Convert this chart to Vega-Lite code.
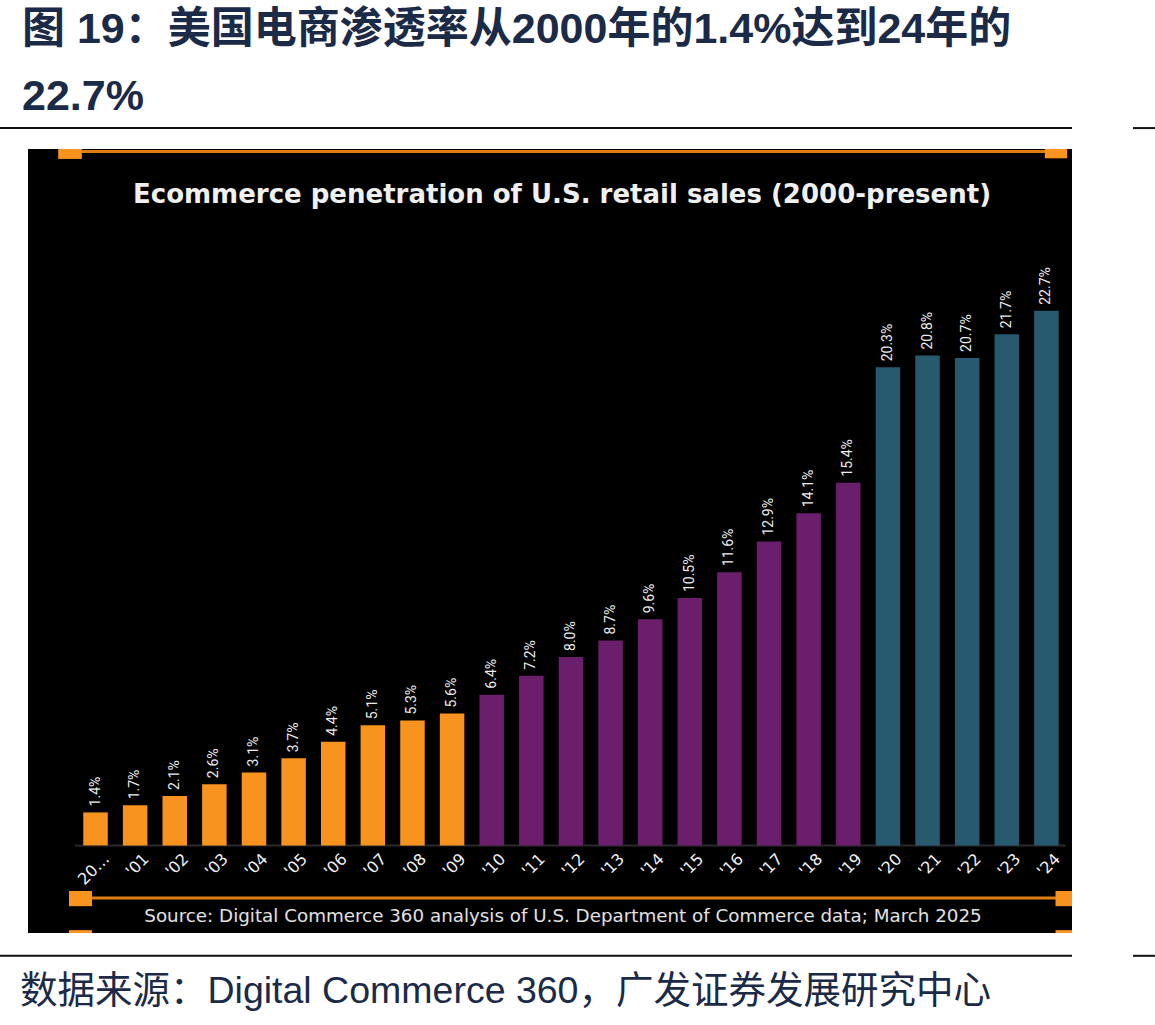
{
  "$schema": "https://vega.github.io/schema/vega-lite/v6.json",
  "width": 1044,
  "height": 784,
  "autosize": {"type": "none"},
  "padding": {"left": 28, "top": 149, "right": 83, "bottom": 92},
  "background": "white",
  "config": {"view": {"fill": "black", "stroke": null}},
  "resolve": {"axis": {"x": "independent", "y": "independent"}},
  "title": {
    "text": ["图 19：美国电商渗透率从2000年的1.4%达到24年的", "22.7%"],
    "anchor": "start",
    "frame": "group",
    "orient": "top",
    "baseline": "alphabetic",
    "font": "Liberation Sans, Noto Sans CJK SC",
    "fontSize": 43,
    "fontWeight": "bold",
    "color": "#1b2a47",
    "lineHeight": 67,
    "offset": -26,
    "dx": -6
  },
  "data": {
    "values": [
      {"year": 2000, "value": 1.4, "period": "2000s"},
      {"year": 2001, "value": 1.7, "period": "2000s"},
      {"year": 2002, "value": 2.1, "period": "2000s"},
      {"year": 2003, "value": 2.6, "period": "2000s"},
      {"year": 2004, "value": 3.1, "period": "2000s"},
      {"year": 2005, "value": 3.7, "period": "2000s"},
      {"year": 2006, "value": 4.4, "period": "2000s"},
      {"year": 2007, "value": 5.1, "period": "2000s"},
      {"year": 2008, "value": 5.3, "period": "2000s"},
      {"year": 2009, "value": 5.6, "period": "2000s"},
      {"year": 2010, "value": 6.4, "period": "2010s"},
      {"year": 2011, "value": 7.2, "period": "2010s"},
      {"year": 2012, "value": 8.0, "period": "2010s"},
      {"year": 2013, "value": 8.7, "period": "2010s"},
      {"year": 2014, "value": 9.6, "period": "2010s"},
      {"year": 2015, "value": 10.5, "period": "2010s"},
      {"year": 2016, "value": 11.6, "period": "2010s"},
      {"year": 2017, "value": 12.9, "period": "2010s"},
      {"year": 2018, "value": 14.1, "period": "2010s"},
      {"year": 2019, "value": 15.4, "period": "2010s"},
      {"year": 2020, "value": 20.3, "period": "2020s"},
      {"year": 2021, "value": 20.8, "period": "2020s"},
      {"year": 2022, "value": 20.7, "period": "2020s"},
      {"year": 2023, "value": 21.7, "period": "2020s"},
      {"year": 2024, "value": 22.7, "period": "2020s"}
    ]
  },
  "layer": [
    {
      "data": {"values": [{}]},
      "mark": {"type": "rule", "color": "#2a2a2a", "strokeWidth": 2},
      "encoding": {
        "x": {"datum": 1999.48, "type": "quantitative", "axis": null, "scale": {"domain": [1998.296, 2024.646], "nice": false, "zero": false, "padding": 0}},
        "x2": {"datum": 2024.49},
        "y": {"datum": 0, "type": "quantitative", "axis": null, "scale": {"domain": [-3.72, 29.57], "nice": false, "zero": false, "padding": 0}}
      }
    },
    {
      "mark": {"type": "bar", "width": 24.5},
      "encoding": {
        "x": {
          "field": "year",
          "type": "quantitative",
          "scale": {"domain": [1998.296, 2024.646], "nice": false, "zero": false, "padding": 0},
          "axis": {
            "orient": "bottom",
            "offset": -87.7,
            "values": [2000, 2001, 2002, 2003, 2004, 2005, 2006, 2007, 2008, 2009, 2010, 2011, 2012, 2013, 2014, 2015, 2016, 2017, 2018, 2019, 2020, 2021, 2022, 2023, 2024],
            "labelExpr": "datum.value == 2000 ? '20…' : \"'\" + substring('' + datum.value, 2, 4)",
            "domain": false,
            "ticks": false,
            "grid": false,
            "labelAngle": -45,
            "labelColor": "#f2f2f2",
            "labelFont": "DejaVu Sans",
            "labelFontSize": 16,
            "labelPadding": 5,
            "labelOffset": 5,
            "labelOverlap": false,
            "labelFlush": false,
            "labelBound": false,
            "zindex": 2,
            "title": null
          }
        },
        "y": {
          "field": "value",
          "type": "quantitative",
          "scale": {"domain": [-3.72, 29.57], "nice": false, "zero": false, "padding": 0},
          "axis": null
        },
        "y2": {"datum": 0},
        "color": {
          "field": "period",
          "type": "nominal",
          "scale": {"domain": ["2000s", "2010s", "2020s"], "range": ["#F7931E", "#6A1E6C", "#27596F"]},
          "legend": null
        }
      }
    },
    {
      "transform": [{"calculate": "format(datum.value, '.1f') + '%'", "as": "label"}],
      "mark": {"type": "text", "angle": 270, "align": "left", "baseline": "middle", "dx": 6, "font": "Roboto", "fontSize": 14, "color": "#ececec"},
      "encoding": {
        "x": {"field": "year", "type": "quantitative", "axis": null},
        "y": {"field": "value", "type": "quantitative", "axis": null},
        "text": {"field": "label", "type": "nominal"}
      }
    },
    {
      "data": {"values": [{}]},
      "mark": {"type": "rule", "color": "#E07E14", "strokeWidth": 3},
      "encoding": {"x": {"datum": 1999.356, "axis": null}, "x2": {"datum": 2024.242}, "y": {"datum": 29.46, "axis": null}}
    },
    {
      "data": {"values": [{}]},
      "mark": {"type": "rule", "color": "#E07E14", "strokeWidth": 3},
      "encoding": {"x": {"datum": 1999.621, "axis": null}, "x2": {"datum": 2024.646}, "y": {"datum": -2.238, "axis": null}}
    },
    {
      "data": {"values": [{}]},
      "mark": {"type": "point", "shape": "square", "filled": true, "opacity": 1, "size": 560, "color": "#F7931E", "clip": true},
      "encoding": {"x": {"datum": 1999.356, "axis": null}, "y": {"datum": 29.65, "axis": null}}
    },
    {
      "data": {"values": [{}]},
      "mark": {"type": "point", "shape": "square", "filled": true, "opacity": 1, "size": 500, "color": "#F7931E", "clip": true},
      "encoding": {"x": {"datum": 2024.242, "axis": null}, "y": {"datum": 29.65, "axis": null}}
    },
    {
      "data": {"values": [{}]},
      "mark": {"type": "point", "shape": "M-1,-0.66H1V0.66H-1Z", "filled": true, "opacity": 1, "size": 529, "color": "#F7931E", "clip": true},
      "encoding": {"x": {"datum": 1999.621, "axis": null}, "y": {"datum": -2.259, "axis": null}}
    },
    {
      "data": {"values": [{}]},
      "mark": {"type": "point", "shape": "M-1,-0.66H1V0.66H-1Z", "filled": true, "opacity": 1, "size": 529, "color": "#F7931E", "clip": true},
      "encoding": {"x": {"datum": 2024.52, "axis": null}, "y": {"datum": -2.259, "axis": null}}
    },
    {
      "data": {"values": [{}]},
      "mark": {"type": "point", "shape": "square", "filled": true, "opacity": 1, "size": 529, "color": "#F7931E", "clip": true},
      "encoding": {"x": {"datum": 1999.621, "axis": null}, "y": {"datum": -4.085, "axis": null}}
    },
    {
      "data": {"values": [{}]},
      "mark": {"type": "point", "shape": "square", "filled": true, "opacity": 1, "size": 529, "color": "#F7931E", "clip": true},
      "encoding": {"x": {"datum": 2024.52, "axis": null}, "y": {"datum": -4.085, "axis": null}}
    },
    {
      "data": {"values": [{}]},
      "mark": {"type": "rule", "color": "#111111", "strokeWidth": 2},
      "encoding": {"x": {"datum": 1997.589, "axis": null}, "x2": {"datum": 2024.646}, "y": {"datum": 30.459, "axis": null}}
    },
    {
      "data": {"values": [{}]},
      "mark": {"type": "rule", "color": "#111111", "strokeWidth": 2},
      "encoding": {"x": {"datum": 2026.186, "axis": null}, "x2": {"datum": 2026.741}, "y": {"datum": 30.459, "axis": null}}
    },
    {
      "data": {"values": [{}]},
      "mark": {"type": "rule", "color": "#111111", "strokeWidth": 2},
      "encoding": {"x": {"datum": 1997.589, "axis": null}, "x2": {"datum": 2024.646}, "y": {"datum": -4.688, "axis": null}}
    },
    {
      "data": {"values": [{}]},
      "mark": {"type": "rule", "color": "#111111", "strokeWidth": 2},
      "encoding": {"x": {"datum": 2026.186, "axis": null}, "x2": {"datum": 2026.741}, "y": {"datum": -4.688, "axis": null}}
    },
    {
      "data": {"values": [{"t": "Ecommerce penetration of U.S. retail sales (2000-present)"}]},
      "mark": {"type": "text", "align": "center", "baseline": "middle", "font": "DejaVu Sans", "fontWeight": "bold", "fontSize": 26, "color": "#f0f0f0"},
      "encoding": {"x": {"datum": 2011.774, "axis": null}, "y": {"datum": 27.61, "axis": null}, "text": {"field": "t", "type": "nominal"}}
    },
    {
      "data": {"values": [{"t": "Source: Digital Commerce 360 analysis of U.S. Department of Commerce data; March 2025"}]},
      "mark": {"type": "text", "align": "center", "baseline": "middle", "font": "DejaVu Sans", "fontSize": 18.3, "color": "#e2e2e2"},
      "encoding": {"x": {"datum": 2011.8, "axis": null}, "y": {"datum": -3.045, "axis": null}, "text": {"field": "t", "type": "nominal"}}
    },
    {
      "data": {"values": [{"t": "数据来源：Digital Commerce 360，广发证券发展研究中心"}]},
      "mark": {"type": "text", "align": "left", "baseline": "middle", "font": "Liberation Sans, Noto Sans CJK SC", "fontSize": 37.5, "color": "#1b2a47"},
      "encoding": {"x": {"datum": 1998.094, "axis": null}, "y": {"datum": -6.23, "axis": null}, "text": {"field": "t", "type": "nominal"}}
    }
  ]
}
